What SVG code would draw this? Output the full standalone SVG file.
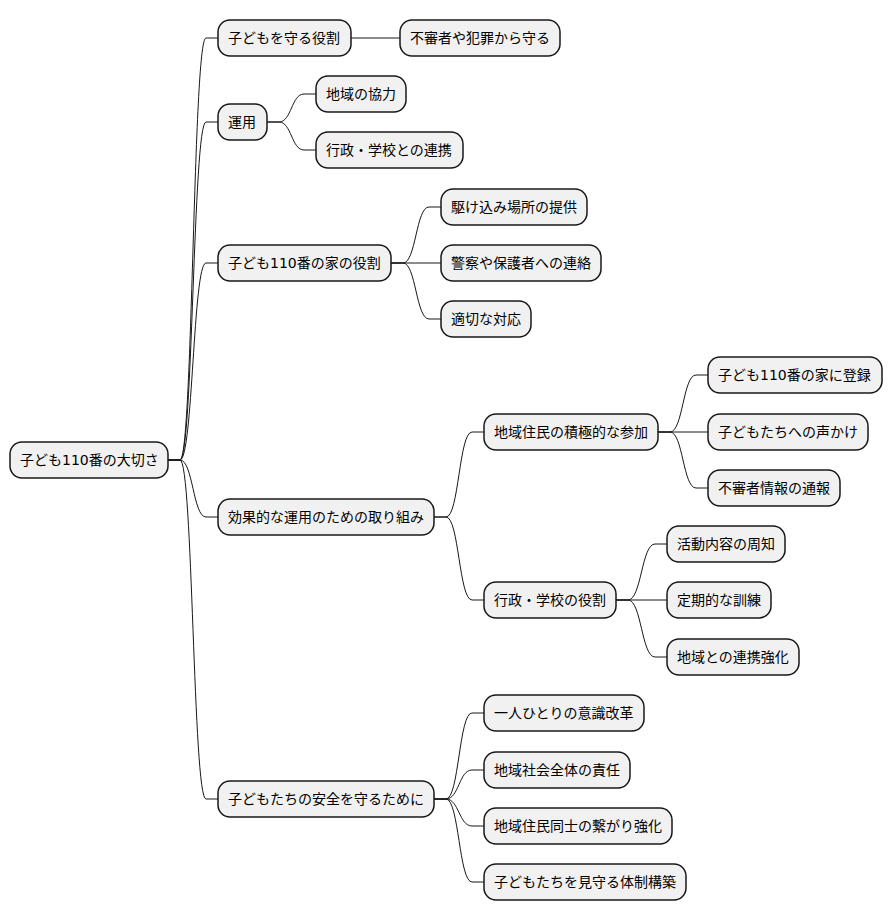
<svg xmlns="http://www.w3.org/2000/svg" width="892" height="921" viewBox="0 0 892 921">
<style>
.n rect{fill:#F1F1F1;stroke:#181818;stroke-width:1.5}
.n text{font-family:"DejaVu Sans","Noto Sans CJK JP",sans-serif;font-size:14px;fill:#000}
.c path{fill:none;stroke:#181818;stroke-width:1}
</style>
<rect width="892" height="921" fill="#FFFFFF"/>
<g id="connectors" class="c">
<path d="M168,460 L180,460 C193,460 193,38 206,38 L218,38"/>
<path d="M168,460 L180,460 C193,460 193,122 206,122 L218,122"/>
<path d="M168,460 L180,460 C193,460 193,263 206,263 L218,263"/>
<path d="M168,460 L180,460 C193,460 193,517 206,517 L218,517"/>
<path d="M168,460 L180,460 C193,460 193,799 206,799 L218,799"/>
<path d="M351,38 L400,38"/>
<path d="M267,122 L279,122 C291.5,122 291.5,94 304,94 L316,94"/>
<path d="M267,122 L279,122 C291.5,122 291.5,150 304,150 L316,150"/>
<path d="M391,263 L403,263 C416,263 416,207 429,207 L441,207"/>
<path d="M391,263 L441,263"/>
<path d="M391,263 L403,263 C416,263 416,319 429,319 L441,319"/>
<path d="M434,517 L446,517 C459,517 459,432 472,432 L484,432"/>
<path d="M434,517 L446,517 C459,517 459,600 472,600 L484,600"/>
<path d="M658,432 L670,432 C683,432 683,375 696,375 L708,375"/>
<path d="M658,432 L708,432"/>
<path d="M658,432 L670,432 C683,432 683,488 696,488 L708,488"/>
<path d="M616,600 L628,600 C641.5,600 641.5,544 655,544 L667,544"/>
<path d="M616,600 L667,600"/>
<path d="M616,600 L628,600 C641.5,600 641.5,657 655,657 L667,657"/>
<path d="M434,799 L446,799 C459,799 459,713 472,713 L484,713"/>
<path d="M434,799 L446,799 C459,799 459,770 472,770 L484,770"/>
<path d="M434,799 L446,799 C459,799 459,826 472,826 L484,826"/>
<path d="M434,799 L446,799 C459,799 459,882 472,882 L484,882"/>
</g>
<g id="root" class="n"><rect x="10" y="442" width="158" height="36" rx="12"/><text x="20" y="465">子ども110番の大切さ</text></g>
<g id="n1" class="n"><rect x="218" y="20" width="133" height="36" rx="12"/><text x="228" y="43">子どもを守る役割</text></g>
<g id="n1a" class="n"><rect x="400" y="20" width="160" height="36" rx="12"/><text x="410" y="43">不審者や犯罪から守る</text></g>
<g id="n2" class="n"><rect x="218" y="104" width="49" height="36" rx="12"/><text x="228" y="127">運用</text></g>
<g id="n2a" class="n"><rect x="316" y="76" width="90" height="36" rx="12"/><text x="326" y="99">地域の協力</text></g>
<g id="n2b" class="n"><rect x="316" y="132" width="147" height="36" rx="12"/><text x="326" y="155">行政・学校との連携</text></g>
<g id="n3" class="n"><rect x="218" y="245" width="173" height="36" rx="12"/><text x="228" y="268">子ども110番の家の役割</text></g>
<g id="n3a" class="n"><rect x="441" y="189" width="146" height="36" rx="12"/><text x="451" y="212">駆け込み場所の提供</text></g>
<g id="n3b" class="n"><rect x="441" y="245" width="160" height="36" rx="12"/><text x="451" y="268">警察や保護者への連絡</text></g>
<g id="n3c" class="n"><rect x="441" y="301" width="90" height="36" rx="12"/><text x="451" y="324">適切な対応</text></g>
<g id="n4" class="n"><rect x="218" y="499" width="216" height="36" rx="12"/><text x="228" y="522">効果的な運用のための取り組み</text></g>
<g id="n4a" class="n"><rect x="484" y="414" width="174" height="36" rx="12"/><text x="494" y="437">地域住民の積極的な参加</text></g>
<g id="n4a1" class="n"><rect x="708" y="357" width="174" height="36" rx="12"/><text x="718" y="380">子ども110番の家に登録</text></g>
<g id="n4a2" class="n"><rect x="708" y="414" width="160" height="36" rx="12"/><text x="718" y="437">子どもたちへの声かけ</text></g>
<g id="n4a3" class="n"><rect x="708" y="470" width="132" height="36" rx="12"/><text x="718" y="493">不審者情報の通報</text></g>
<g id="n4b" class="n"><rect x="484" y="582" width="132" height="36" rx="12"/><text x="494" y="605">行政・学校の役割</text></g>
<g id="n4b1" class="n"><rect x="667" y="526" width="118" height="36" rx="12"/><text x="677" y="549">活動内容の周知</text></g>
<g id="n4b2" class="n"><rect x="667" y="582" width="104" height="36" rx="12"/><text x="677" y="605">定期的な訓練</text></g>
<g id="n4b3" class="n"><rect x="667" y="639" width="132" height="36" rx="12"/><text x="677" y="662">地域との連携強化</text></g>
<g id="n5" class="n"><rect x="218" y="781" width="216" height="36" rx="12"/><text x="228" y="804">子どもたちの安全を守るために</text></g>
<g id="n5a" class="n"><rect x="484" y="695" width="160" height="36" rx="12"/><text x="494" y="718">一人ひとりの意識改革</text></g>
<g id="n5b" class="n"><rect x="484" y="752" width="146" height="36" rx="12"/><text x="494" y="775">地域社会全体の責任</text></g>
<g id="n5c" class="n"><rect x="484" y="808" width="188" height="36" rx="12"/><text x="494" y="831">地域住民同士の繋がり強化</text></g>
<g id="n5d" class="n"><rect x="484" y="864" width="202" height="36" rx="12"/><text x="494" y="887">子どもたちを見守る体制構築</text></g>
</svg>
